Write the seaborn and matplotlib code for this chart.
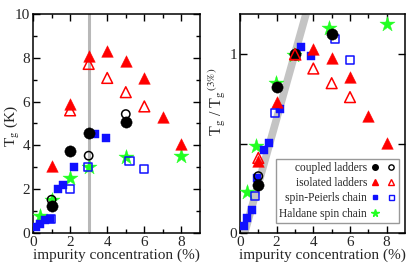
import numpy as np
import pandas as pd
import seaborn as sns
import matplotlib
matplotlib.use("Agg")
import matplotlib.pyplot as plt
from matplotlib.lines import Line2D
from matplotlib.legend_handler import HandlerTuple
from matplotlib.ticker import MultipleLocator, FixedLocator, FixedFormatter

# ---------------- data ----------------
# left panel: Tg (K)
cl_fill_x = [1, 2, 3, 5]
cl_fill_y = [1.22, 3.73, 4.58, 5.05]
cl_open_x = [1, 3, 5]
cl_open_y = [1.52, 3.53, 5.43]
il_fill_x = [1, 2, 3, 4, 5, 6, 7, 8]
il_fill_y = [3.05, 5.9, 8.1, 8.3, 7.85, 7.1, 5.28, 4.08]
il_open_x = [2, 3, 4, 5, 6]
il_open_y = [5.6, 7.72, 7.08, 6.43, 5.78]
sp_fill_x = [0.15, 0.4, 0.65, 0.9, 1.35, 1.6, 2.2, 3.35, 3.95]
sp_fill_y = [0.26, 0.4, 0.58, 0.64, 2.0, 2.2, 3.02, 4.52, 4.32]
sp_open_x = [0.95, 2.0, 2.95, 5.2, 6.0]
sp_open_y = [0.62, 2.0, 3.02, 3.27, 2.92]
hc_x = [0.4, 1.0, 2.0, 3.0, 5.0, 8.0]
hc_y = [0.78, 1.52, 2.52, 3.02, 3.45, 3.5]

# right panel: Tg / Tg(3%)
r_cl_fill_x = [1, 2, 3, 5]
r_cl_fill_y = [0.27, 0.815, 1.0, 1.115]
r_cl_open_x = [1]
r_cl_open_y = [0.318]
r_il_fill_x = [1, 2, 3, 4, 5, 6, 7, 8]
r_il_fill_y = [0.40, 0.73, 1.0, 1.03, 0.978, 0.875, 0.652, 0.503]
r_il_open_x = [1, 3, 4, 5, 6]
r_il_open_y = [0.42, 1.0, 0.92, 0.838, 0.76]
r_sp_fill_x = [0.2, 0.4, 0.67, 0.95, 1.3, 1.58, 2.2, 3.3, 3.85]
r_sp_fill_y = [0.037, 0.084, 0.13, 0.31, 0.466, 0.506, 0.695, 1.043, 0.99]
r_sp_open_x = [0.8, 1.9, 5.2, 6.0]
r_sp_open_y = [0.205, 0.67, 1.084, 0.968]
r_hc_x = [0.36, 0.88, 1.95, 2.95, 4.88, 8.0]
r_hc_y = [0.227, 0.484, 0.838, 0.996, 1.145, 1.17]

# guide lines
vline_x = 3
band_x = [0.25, 3.6]
band_y = [0.0, 1.225]

labels = ["coupled ladders", "isolated ladders", "spin-Peierls chain", "Haldane spin chain"]

RED = "#ff0000"
BLUE = "#1010ff"
GREEN = "#22ff22"
BLACK = "#000000"

# ---------------- style ----------------
sns.set_theme(style="ticks")
plt.rcParams["font.family"] = ["Liberation Serif", "DejaVu Serif"]
plt.rcParams["mathtext.fontset"] = "stix"
plt.rcParams["axes.linewidth"] = 1.1
plt.rcParams["axes.edgecolor"] = "black"

fig = plt.figure(figsize=(4.15, 2.73), dpi=100)
axL = fig.add_axes([33 / 415, 40 / 273, 167 / 415, 219 / 273])
axR = fig.add_axes([240 / 415, 40 / 273, 165 / 415, 219 / 273])


def pts(ax, x, y, marker, s, color, filled=True, z=3, lw=1.0):
    sns.scatterplot(x=x, y=y, marker=marker, s=s, color=color, ax=ax,
                    linewidth=0, zorder=z, legend=False)
    coll = ax.collections[-1]
    if filled:
        coll.set_facecolor(color)
        coll.set_edgecolor(color)
        coll.set_linewidth(0.3)
    else:
        coll.set_facecolor("none")
        coll.set_edgecolor(color)
        coll.set_linewidth(lw)
    coll.set_zorder(z)


# ---- left panel ----
axL.axvline(vline_x, color="#b8b8b8", lw=2.2, zorder=1)
pts(axL, hc_x, hc_y, "*", 130, GREEN, True, 3)
pts(axL, sp_fill_x, sp_fill_y, "s", 30, BLUE, True, 4)
pts(axL, sp_open_x, sp_open_y, "s", 34, BLUE, False, 5, 1.1)
pts(axL, il_fill_x, il_fill_y, "^", 70, RED, True, 4)
pts(axL, il_open_x, il_open_y, "^", 60, RED, False, 5, 1.1)
pts(axL, cl_fill_x, cl_fill_y, "o", 66, BLACK, True, 6)
pts(axL, cl_open_x, cl_open_y, "o", 36, BLACK, False, 7, 1.1)

axL.set_xlim(0, 9)
axL.set_ylim(0, 10)
axL.xaxis.set_major_locator(FixedLocator([0, 2, 4, 6, 8]))
axL.xaxis.set_minor_locator(FixedLocator([1, 3, 5, 7]))
axL.yaxis.set_major_locator(MultipleLocator(2))
axL.yaxis.set_minor_locator(MultipleLocator(1))
axL.set_xlabel("impurity concentration (%)", fontsize=11, labelpad=0)
axL.set_ylabel(r"T$_{\rm g}$ (K)", fontsize=11)
axL.yaxis.set_label_coords(-0.068, 0.49)

# ---- right panel ----
axR.plot(band_x, band_y, color="#c4c4c4", lw=5.5, solid_capstyle="butt", zorder=1)
pts(axR, r_hc_x, r_hc_y, "*", 130, GREEN, True, 3)
pts(axR, r_sp_fill_x, r_sp_fill_y, "s", 30, BLUE, True, 4)
pts(axR, r_sp_open_x, r_sp_open_y, "s", 34, BLUE, False, 5, 1.1)
pts(axR, r_il_fill_x, r_il_fill_y, "^", 70, RED, True, 4)
pts(axR, r_cl_fill_x, r_cl_fill_y, "o", 66, BLACK, True, 6)
pts(axR, r_il_open_x, r_il_open_y, "^", 60, RED, False, 7, 1.1)
pts(axR, r_cl_open_x, r_cl_open_y, "o", 36, BLACK, False, 7, 1.1)

axR.set_xlim(0, 9)
axR.set_ylim(0, 1.225)
axR.xaxis.set_major_locator(FixedLocator([0, 2, 4, 6, 8]))
axR.xaxis.set_minor_locator(FixedLocator([1, 3, 5, 7]))
axR.yaxis.set_major_locator(FixedLocator([0, 0.5, 1]))
axR.yaxis.set_major_formatter(FixedFormatter(["0", "", "1"]))
axR.set_xlabel("impurity concentration (%)", fontsize=11, labelpad=0)
axR.set_ylabel(r"T$_{\rm g}$ / T$_{\rm g}$$^{\rm (3\%)}$", fontsize=11.5)
axR.yaxis.set_label_coords(-0.075, 0.6)

for ax in (axL, axR):
    ax.tick_params(which="both", direction="in", top=True, right=True,
                   labelsize=11, color="black", pad=2)
    ax.tick_params(which="major", length=5, width=1.0)
    ax.tick_params(which="minor", length=3, width=1.0)
    for sp in ax.spines.values():
        sp.set_visible(True)
        sp.set_linewidth(1.1)
        sp.set_color("black")

# legend
def mk(marker, color, filled, ms, mew=1.0):
    return Line2D([], [], ls="", marker=marker, markersize=ms,
                  markerfacecolor=color if filled else "none",
                  markeredgecolor=color, markeredgewidth=mew)

blank = Line2D([], [], ls="", marker="o", markersize=4,
               markerfacecolor="none", markeredgecolor="none")
handles = [
    (mk("o", BLACK, True, 4.0), mk("o", BLACK, False, 3.8)),
    (mk("^", RED, True, 4.4), mk("^", RED, False, 4.4)),
    (mk("s", BLUE, True, 3.4), mk("s", BLUE, False, 3.6)),
    (mk("*", GREEN, True, 5.5), blank),
]
leg = axR.legend(handles, labels, handler_map={tuple: HandlerTuple(ndivide=None, pad=0.6)},
                 loc="lower right", bbox_to_anchor=(0.965, 0.045), borderaxespad=0,
                 markerfirst=False, fontsize=8.3, handlelength=2.2, handletextpad=0.3,
                 labelspacing=0.28, borderpad=0.3, frameon=True, fancybox=False,
                 framealpha=1, edgecolor="#999999")
leg.get_frame().set_linewidth(1.0)

fig.savefig("out.png", dpi=100)
